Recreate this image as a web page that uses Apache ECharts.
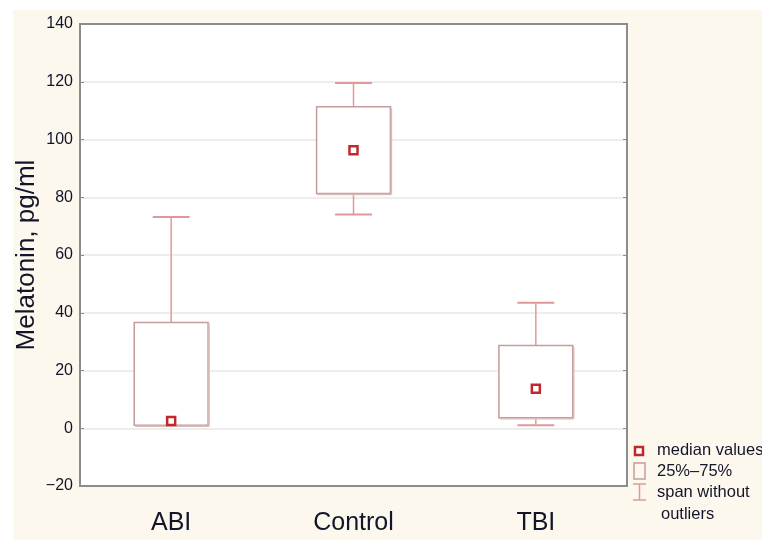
<!DOCTYPE html>
<html>
<head>
<meta charset="utf-8">
<script src="https://cdn.jsdelivr.net/npm/echarts@6/dist/echarts.min.js"></script>
<style>
html,body{margin:0;padding:0;background:#ffffff;}
#chart{width:762px;height:540px;}
</style>
</head>
<body>
<div id="chart"></div>
<script>
var categories = ['ABI', 'Control', 'TBI'];
var whiskerLow = [1.0, 74.0, 1.0];
var q1 = [1.0, 81.3, 3.6];
var median = [2.5, 96.3, 13.7];
var q3 = [36.6, 111.3, 28.7];
var whiskerHigh = [73.2, 119.6, 43.5];
var yTicks = [-20, 0, 20, 40, 60, 80, 100, 120, 140];
var legendLabels = ['median values', '25%\u201375%', 'span without', 'outliers'];

var data = categories.map(function (c, i) {
  return [i, whiskerLow[i], q1[i], median[i], q3[i], whiskerHigh[i]];
});

var BOX = '#c49c9c';
var WHISK = '#e29898';
var MED = '#c0282d';
var FONT = '"Liberation Sans", Arial, sans-serif';
var TXT = '#14142a';

function legendText(str, x, y) {
  return { type: 'text', style: { text: str, x: x, y: y, fill: TXT, font: '16.5px ' + FONT, textVerticalAlign: 'middle' } };
}

var chart = echarts.init(document.getElementById('chart'));
chart.setOption({
  backgroundColor: 'transparent',
  animation: false,
  graphic: [
    { type: 'rect', z: -10, silent: true, shape: { x: 13, y: 10, width: 762, height: 540 }, style: { fill: '#fdf8ee' } },
    { type: 'rect', shape: { x: 635, y: 447, width: 8, height: 8 }, style: { fill: '#fff', stroke: MED, lineWidth: 2.5 } },
    { type: 'rect', shape: { x: 634, y: 463, width: 11, height: 16 }, style: { fill: '#fdf8ee', stroke: BOX, lineWidth: 1.5 } },
    { type: 'line', shape: { x1: 633, y1: 484, x2: 646, y2: 484 }, style: { stroke: WHISK, lineWidth: 1.5 } },
    { type: 'line', shape: { x1: 639.5, y1: 484, x2: 639.5, y2: 500 }, style: { stroke: WHISK, lineWidth: 1.5 } },
    { type: 'line', shape: { x1: 633, y1: 500, x2: 646, y2: 500 }, style: { stroke: WHISK, lineWidth: 1.5 } },
    legendText(legendLabels[0], 657, 450),
    legendText(legendLabels[1], 657, 471),
    legendText(legendLabels[2], 657, 492),
    legendText(legendLabels[3], 661, 514)
  ],
  grid: { left: 80, top: 24, width: 547, height: 462, show: true, borderColor: '#8c8c8c', borderWidth: 2, backgroundColor: '#ffffff' },
  xAxis: [{
    type: 'category',
    data: categories,
    axisLine: { onZero: false, lineStyle: { color: '#8c8c8c', width: 2 } },
    axisTick: { inside: true, alignWithLabel: true, length: 4, lineStyle: { color: '#8c8c8c' } },
    axisLabel: { color: TXT, fontSize: 25, margin: 25, fontFamily: FONT },
    splitLine: { show: false }
  }, {
    type: 'category',
    position: 'top',
    data: categories,
    axisLine: { onZero: false, lineStyle: { color: '#8c8c8c', width: 2 } },
    axisTick: { inside: true, alignWithLabel: true, length: 4, lineStyle: { color: '#8c8c8c' } },
    axisLabel: { show: false },
    splitLine: { show: false }
  }],
  yAxis: [{
    type: 'value',
    min: -20, max: 140, interval: 20,
    name: 'Melatonin, pg/ml',
    nameLocation: 'middle',
    nameGap: 40,
    nameMoveOverlap: false,
    nameTextStyle: { color: TXT, fontSize: 26, fontFamily: FONT },
    axisLine: { show: true, onZero: false, lineStyle: { color: '#8c8c8c', width: 2 } },
    axisTick: { show: true, inside: true, length: 4, lineStyle: { color: '#8c8c8c' } },
    axisLabel: {
      color: TXT, fontSize: 16, margin: 7, fontFamily: FONT,
      formatter: function (v) { return yTicks.indexOf(v) >= 0 ? (v < 0 ? '\u2212' + (-v) : String(v)) : ''; }
    },
    splitLine: { lineStyle: { color: '#ededed', width: 2 } }
  }, {
    type: 'value',
    position: 'right',
    min: -20, max: 140, interval: 20,
    axisLine: { show: true, onZero: false, lineStyle: { color: '#8c8c8c', width: 2 } },
    axisTick: { show: true, inside: true, length: 4, lineStyle: { color: '#8c8c8c' } },
    axisLabel: { show: false },
    splitLine: { show: false }
  }],
  series: [{
    type: 'custom',
    data: data,
    encode: { x: 0, y: [1, 2, 3, 4, 5] },
    renderItem: function (params, api) {
      var i = api.value(0);
      var bw = api.size([1, 0])[0] * 0.405;
      var cw = bw * 0.5;
      var pLow = api.coord([i, api.value(1)]);
      var pQ1 = api.coord([i, api.value(2)]);
      var pMed = api.coord([i, api.value(3)]);
      var pQ3 = api.coord([i, api.value(4)]);
      var pHigh = api.coord([i, api.value(5)]);
      var x = pQ1[0];
      var children = [
        { type: 'line', shape: { x1: x, y1: pQ3[1], x2: x, y2: pHigh[1] }, style: { stroke: WHISK, lineWidth: 1.5 } },
        { type: 'line', shape: { x1: x, y1: pQ1[1], x2: x, y2: pLow[1] }, style: { stroke: WHISK, lineWidth: 1.5 } },
        { type: 'line', shape: { x1: x - cw / 2, y1: pHigh[1], x2: x + cw / 2, y2: pHigh[1] }, style: { stroke: WHISK, lineWidth: 2 } },
        { type: 'line', shape: { x1: x - cw / 2, y1: pLow[1], x2: x + cw / 2, y2: pLow[1] }, style: { stroke: WHISK, lineWidth: 2 } },
        { type: 'rect', shape: { x: x - bw / 2, y: pQ3[1], width: bw, height: pQ1[1] - pQ3[1] }, style: { fill: '#ffffff', stroke: BOX, lineWidth: 1.5 } },
        { type: 'line', shape: { x1: x + bw / 2 + 1, y1: pQ3[1] + 1, x2: x + bw / 2 + 1, y2: pQ1[1] + 1 }, style: { stroke: '#ddbcbc', lineWidth: 1.5 } },
        { type: 'line', shape: { x1: x - bw / 2 + 1, y1: pQ1[1] + 1, x2: x + bw / 2 + 1, y2: pQ1[1] + 1 }, style: { stroke: '#ddbcbc', lineWidth: 1.5 } },
        { type: 'rect', shape: { x: x - 4, y: pMed[1] - 4, width: 8, height: 8 }, style: { fill: '#ffffff', stroke: MED, lineWidth: 2.5 } }
      ];
      return { type: 'group', children: children };
    }
  }]
});
</script>
</body>
</html>
